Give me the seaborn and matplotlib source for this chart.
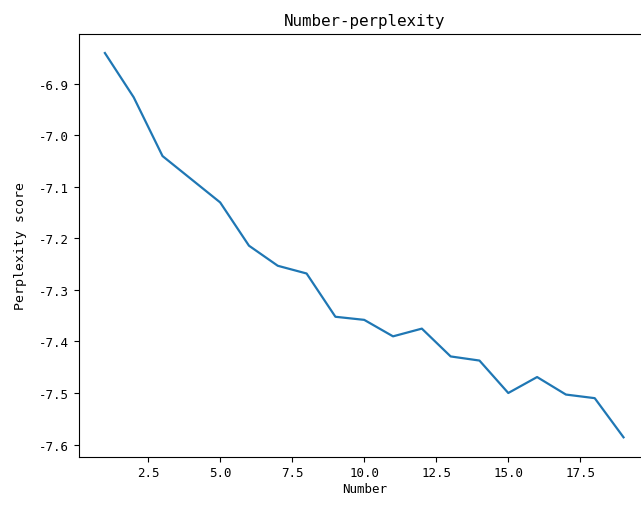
import matplotlib
matplotlib.use("Agg")
import matplotlib.pyplot as plt
import seaborn as sns

# --- данные ---
numbers = list(range(1, 20))
perplexity = [
    -6.840, -6.926, -7.040, -7.085, -7.130, -7.214, -7.253, -7.268, -7.352, -7.358,
    -7.390, -7.375, -7.429, -7.437, -7.500, -7.469, -7.503, -7.510, -7.586,
]

plt.rcParams["font.family"] = ["DejaVu Sans Mono", "DejaVu Sans"]
plt.rcParams["axes.unicode_minus"] = False
plt.rcParams["xtick.labelsize"] = 9
plt.rcParams["ytick.labelsize"] = 9

fig = plt.figure(figsize=(6.41, 5.06), dpi=100)
# правая граница осей уходит за край картинки, как в оригинале
ax = fig.add_axes([0.1232, 0.0958, 0.890, 0.8354])

sns.lineplot(x=numbers, y=perplexity, ax=ax, color="#1f77b4", linewidth=1.6)

ax.set_title("Number-perplexity", fontsize=11.4)
ax.set_xlabel("Number", fontsize=9, labelpad=2)
ax.set_ylabel("Perplexity score", fontsize=9.5, labelpad=9)

fig.savefig("out.png", dpi=100)
